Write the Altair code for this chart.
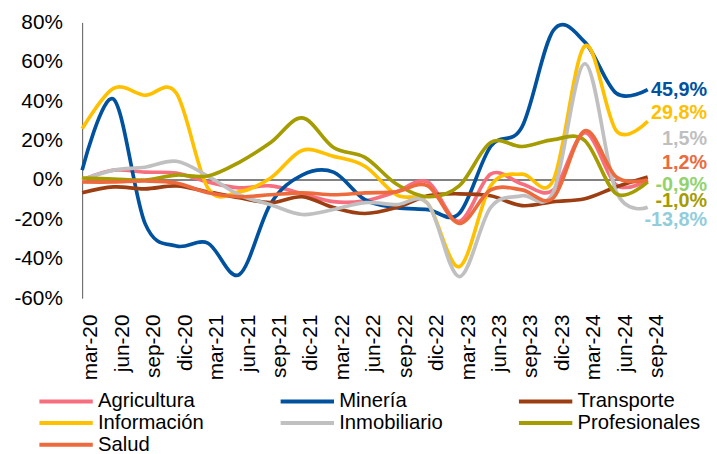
import altair as alt
import pandas as pd

categories = ["mar-20", "jun-20", "sep-20", "dic-20", "mar-21", "jun-21", "sep-21",
              "dic-21", "mar-22", "jun-22", "sep-22", "dic-22", "mar-23", "jun-23",
              "sep-23", "dic-23", "mar-24", "jun-24", "sep-24"]

series_names = ["Agricultura", "Minería", "Transporte", "Información",
                "Inmobiliario", "Profesionales", "Salud"]

agricultura = [0, 5, 4, 3.5, -1, -4, -3, -7, -11, -10.5, -6, -1, -21, 3, -2, -5, 24, -2.5, 0]
mineria = [5, 41, -22, -33.5, -32, -48, -12, 2.5, 4, -10, -14, -15, -17, 17, 27, 76, 70, 44, 45.9]
transporte = [-6.5, -3.5, -4.5, -3, -6, -9, -11.5, -8.5, -14, -17, -14, -8, -7, -8, -13, -11, -9.5, -3.5, 1.5]
informacion = [26, 46.5, 43, 44, -4, -6, 1, 15, 12, 7, -7.5, -12, -44, -3, 3, 0, 68, 25, 29.8]
inmobiliario = [0, 5, 6.5, 9.5, 2, -7.5, -12.5, -17.5, -15, -11.5, -12.5, -12, -49, -14, -8, -6, 59, -6, -13.8]
profesionales = [1, 0.5, 0, 2.5, 2, 9, 19, 31.5, 16.5, 11.5, -2, -8.5, -3, 19, 17, 20.5, 20, -7, -1]
salud = [-1, -1, -0.5, -1.5, -6.5, -8.5, -7.5, -6.5, -7.5, -6.5, -6, -3, -22, -5, -5, -9, 25, 1.5, 0]

series_values = [agricultura, mineria, transporte, informacion, inmobiliario, profesionales, salud]
series_colors = ["#F76E7F", "#00529F", "#9C3E12", "#FFC000", "#C0C0C0", "#A59C00", "#EC6A3C"]

label_texts = ["45,9%", "29,8%", "1,5%", "1,2%", "-0,9%", "-1,0%", "-13,8%"]
label_positions = [45.7, 33.9, 21.0, 8.4, -2.5, -10.9, -20.1]
label_colors = ["#00529F", "#FFC000", "#BFBFBF", "#EC6A3C", "#92D36E", "#A59C00", "#92CDDC"]

y_ticks = [-60, -40, -20, 0, 20, 40, 60, 80]

rows = []
for order, (name, vals) in enumerate(zip(series_names, series_values)):
    for c, v in zip(categories, vals):
        rows.append({"Periodo": c, "Sector": name, "Valor": v, "orden": order})
df = pd.DataFrame(rows)

labels_df = pd.DataFrame({
    "Periodo": [categories[-1]] * len(label_texts),
    "Valor": label_positions,
    "texto": label_texts,
    "color": label_colors,
})

zero_df = pd.DataFrame({"Valor": [0]})

FONT = "Liberation Sans"

x_scale = alt.Scale(type="point", padding=0)
x_axis = alt.Axis(title=None, labelAngle=-90, domain=False, ticks=False,
                  labelPadding=16, labelOffset=9, labelFontSize=21,
                  labelFont=FONT, labelColor="#000000")
y_scale = alt.Scale(domain=[-60, 80], nice=False, zero=False)
y_axis = alt.Axis(title=None, values=y_ticks, labelExpr="datum.value + '%'",
                  domain=True, domainColor="#595959", domainWidth=1,
                  ticks=False, grid=False, labelPadding=20, labelFontSize=21,
                  labelFont=FONT, labelColor="#000000")

zero_rule = alt.Chart(zero_df).mark_rule(color="#595959", strokeWidth=1.5).encode(
    y=alt.Y("Valor:Q", scale=y_scale, axis=y_axis)
)

lines = alt.Chart(df).mark_line(strokeWidth=3.7, interpolate="cardinal").encode(
    x=alt.X("Periodo:N", sort=categories, scale=x_scale, axis=x_axis),
    y=alt.Y("Valor:Q", scale=y_scale, axis=y_axis),
    color=alt.Color(
        "Sector:N",
        sort=series_names,
        scale=alt.Scale(domain=series_names, range=series_colors),
        legend=alt.Legend(
            title=None, orient="none", direction="horizontal",
            legendX=-43, legendY=373, columns=3,
            symbolType="M-3.375,0L3.375,0", symbolSize=256, symbolStrokeWidth=4,
            symbolOffset=16.5, labelOffset=22, labelFontSize=20.5, labelFont=FONT,
            labelColor="#000000", columnPadding=68, rowPadding=1, padding=0,
            labelLimit=0,
        ),
    ),
    detail="orden:O",
)

labels = alt.Chart(labels_df).mark_text(
    align="right", baseline="middle", dx=60, fontSize=20, fontWeight="bold", font=FONT
).encode(
    x=alt.X("Periodo:N", sort=categories, scale=x_scale, axis=x_axis),
    y=alt.Y("Valor:Q", scale=y_scale, axis=y_axis),
    text="texto:N",
    color=alt.Color("color:N", scale=None),
)

chart = alt.layer(zero_rule, lines, labels).properties(
    width=572,
    height=279,
    padding={"left": 75, "top": 12, "right": 62, "bottom": 155},
    autosize=alt.AutoSizeParams(type="none"),
    background="white",
).configure_view(stroke=None)

chart.save("out.html", embed_options={"renderer": "svg", "actions": False})
